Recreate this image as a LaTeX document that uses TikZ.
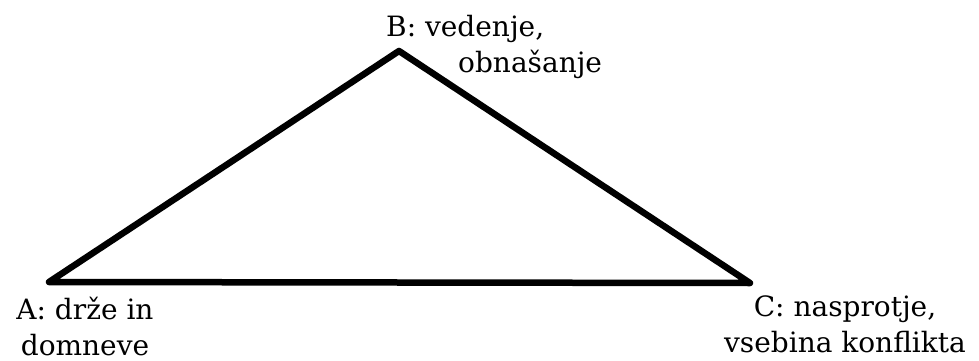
\documentclass[tikz,border=0pt]{standalone}
\usepackage{fontspec}
\setmainfont{DejaVu Serif}
\usepackage{tikz}
\tikzset{
  edge/.style = {draw=black, line width=6.5pt, line join=round, line cap=round},
  lbl/.style  = {font=\fontsize{28}{36}\selectfont, inner sep=0pt, text=black},
}

\begin{document}
\begin{tikzpicture}[x=1pt,y=-1pt]
  \useasboundingbox (0,0) rectangle (979,361);

  % corners of the triangle
  \coordinate (A) at (49,282);
  \coordinate (B) at (399,51);
  \coordinate (C) at (750,283);
  \draw[edge] (A) -- (B) -- (C) -- cycle;

  % labels
  \node[lbl, anchor=base west, align=left] (labB) at (386,73) {B: vedenje,\\\hspace*{72pt}obnašanje};
  \node[lbl, anchor=base, align=center] (labA) at (85,355) {A: drže in\\domneve};
  \node[lbl, anchor=base, align=center] (labC) at (845,352) {C: nasprotje,\\vsebina konflikta};
\end{tikzpicture}
\end{document}
